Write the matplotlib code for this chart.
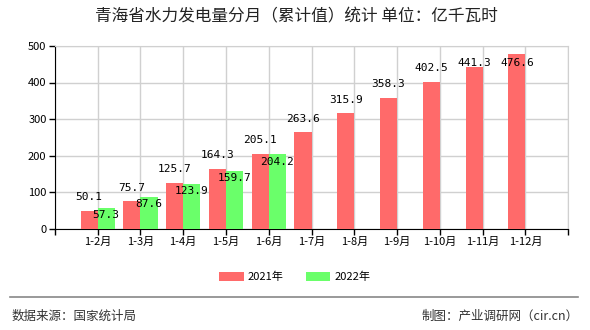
import numpy as np
import matplotlib.pyplot as plt

plt.rcParams['font.family'] = ['Noto Sans CJK SC', 'DejaVu Sans']

months = ['1-2月', '1-3月', '1-4月', '1-5月', '1-6月', '1-7月', '1-8月',
          '1-9月', '1-10月', '1-11月', '1-12月']
v2021 = [50.1, 75.7, 125.7, 164.3, 205.1, 263.6, 315.9, 358.3, 402.5, 441.3, 476.6]
v2022 = [57.3, 87.6, 123.9, 159.7, 204.2]

red = '#ff6a6a'
green = '#6aff6a'

fig = plt.figure(figsize=(5.9, 3.3), dpi=100)
ax = fig.add_axes([0.093, 0.306, 0.87, 0.555])

x = np.arange(len(months))
x2 = np.arange(len(v2022))
w = 0.4
ax.bar(x - w / 2, v2021, w, color=red, zorder=3, label='2021年')
ax.bar(x2 + w / 2, v2022, w, color=green, zorder=3, label='2022年')

num_font = dict(family='DejaVu Sans Mono', fontsize=8, color='black')
for xi, v in zip(x, v2021):
    # label above the bar, pushed inside when it would leave the plot
    ax.text(xi - w / 2, min(v + 37, 453), f'{v}', ha='center', va='center', zorder=4, **num_font)
for xi, v in zip(x2, v2022):
    ax.text(xi + w / 2, v - 20, f'{v}', ha='center', va='center', zorder=4, **num_font)

ax.set_xlim(-1, len(months))
ax.set_ylim(0, 500)
ax.set_yticks(range(0, 501, 100))
ax.set_xticks(np.arange(-1, len(months) + 1))
ax.set_xticklabels([''] + months + [''])
ax.tick_params(axis='both', labelsize=8, length=4, width=1, colors='black', pad=2)
ax.grid(True, color='#d0d0d0', linewidth=1, zorder=0)
for s in ['left', 'bottom']:
    ax.spines[s].set_color('black')
for s in ['top', 'right']:
    ax.spines[s].set_color('#d0d0d0')

fig.text(0.503, 0.948, '青海省水力发电量分月（累计值）统计 单位：亿千瓦时',
         ha='center', va='center', fontsize=12, color='#222222')

fig.legend(loc='center', bbox_to_anchor=(0.5, 0.16), ncol=2, frameon=False,
           fontsize=8, handlelength=2.2, handleheight=0.9, columnspacing=2.0,
           handletextpad=0.4)

fig.add_artist(plt.Line2D([0.017, 0.98], [0.1, 0.1], color='#888888', linewidth=1.2))
fig.text(0.02, 0.042, '数据来源：国家统计局', ha='left', va='center', fontsize=9, color='#333333')
fig.text(0.98, 0.042, '制图：产业调研网（cir.cn）', ha='right', va='center', fontsize=9, color='#333333')

fig.savefig('out.png', dpi=100)
